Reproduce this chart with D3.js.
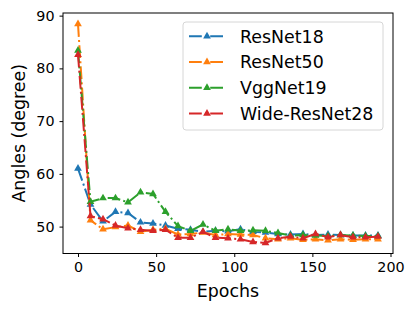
<!DOCTYPE html>
<html>
<head>
<meta charset="utf-8">
<script src="https://cdn.jsdelivr.net/npm/d3@7"></script>
<style>
  body { margin: 0; background: #fff; }
  text { font-family: "DejaVu Sans", sans-serif; }
</style>
</head>
<body>
<div id="container"></div>
<script>
const epochs = d3.range(0, 193, 8)

const resnet18 = [61.0, 54.2, 51.0, 52.8, 52.6, 50.8, 50.6, 50.2, 49.6, 49.4, 49.0, 49.2, 49.1,
                  49.5, 49.0, 48.9, 48.6, 48.5, 48.6, 48.4, 48.5, 48.4, 48.3, 48.3, 48.3]
const resnet50 = [88.4, 51.2, 49.5, 49.9, 50.2, 49.0, 49.4, 49.6, 48.5, 48.6, 48.9, 48.4, 48.6,
                  48.5, 48.4, 47.8, 47.6, 47.8, 47.5, 47.6, 47.4, 47.6, 47.5, 47.6, 47.6]
const vggnet19 = [83.4, 54.7, 55.4, 55.4, 54.6, 56.5, 56.2, 52.8, 50.1, 49.2, 50.4, 49.2, 49.5,
                  49.2, 49.3, 49.2, 48.8, 48.3, 48.4, 48.3, 48.2, 48.4, 48.3, 48.2, 48.2]
const wideResnet28 = [82.6, 52.0, 51.4, 50.2, 49.7, 49.4, 49.2, 49.4, 47.9, 47.9, 49.0, 47.9, 47.8,
                      47.6, 47.1, 46.9, 47.8, 48.1, 47.8, 48.6, 48.0, 48.4, 48.0, 48.0, 48.1]

const seriesNames = ["ResNet18", "ResNet50", "VggNet19", "Wide-ResNet28"]
const seriesValues = [resnet18, resnet50, vggnet19, wideResnet28]
const colors = ["#1f77b4", "#ff7f0e", "#2ca02c", "#d62728"]

const xTicks = [0, 50, 100, 150, 200]
const yTicks = [50, 60, 70, 80, 90]

const width = 415
const height = 312
const margin = {top: 13, right: 22, bottom: 58.5, left: 63}

const svg = d3.create("svg")
    .attr("width", width)
    .attr("height", height)

const x = d3.scaleLinear()
    .domain([-9.6, 201.6])
    .range([margin.left, width - margin.right])

const y = d3.scaleLinear()
    .domain([44.9, 90.5])
    .range([height - margin.bottom, margin.top])

const series = seriesNames.map((name, i) => ({
    name: name,
    color: colors[i],
    points: epochs.map((e, j) => ({x: e, y: seriesValues[i][j]}))
}))

const line = d3.line()
    .x(d => x(d.x))
    .y(d => y(d.y))

const dash = "12.8,3.2,2,3.2"
const triangle = d3.symbol().type(d3.symbolTriangle).size(26)

const groups = svg.selectAll(".series")
    .data(series)
    .enter()
    .append("g")
    .attr("class", "series")

groups.append("path")
    .attr("d", d => line(d.points))
    .attr("fill", "none")
    .attr("stroke", d => d.color)
    .attr("stroke-width", 2)
    .attr("stroke-dasharray", dash)

groups.each(function(s) {
    d3.select(this).selectAll(".mark")
        .data(s.points)
        .enter()
        .append("path")
        .attr("class", "mark")
        .attr("d", triangle)
        .attr("transform", d => `translate(${x(d.x)},${y(d.y)})`)
        .attr("fill", s.color)
})

// frame
svg.append("rect")
    .attr("x", margin.left)
    .attr("y", margin.top)
    .attr("width", width - margin.left - margin.right)
    .attr("height", height - margin.top - margin.bottom)
    .attr("fill", "none")
    .attr("stroke", "#000")
    .attr("stroke-width", 1)

const xAxis = svg.append("g")
    .attr("transform", `translate(0,${height - margin.bottom})`)
    .call(d3.axisBottom(x).tickValues(xTicks).tickSize(3.5).tickPadding(5))
xAxis.select(".domain").remove()

const yAxis = svg.append("g")
    .attr("transform", `translate(${margin.left},0)`)
    .call(d3.axisLeft(y).tickValues(yTicks).tickSize(3.5).tickPadding(5))
yAxis.select(".domain").remove()

svg.selectAll(".tick text")
    .attr("font-size", "14.3px")
    .attr("fill", "#000")
    .style("font-family", "DejaVu Sans")
svg.selectAll(".tick line").attr("stroke", "#000").attr("stroke-width", 1)

svg.append("text")
    .attr("x", (margin.left + width - margin.right) / 2)
    .attr("y", 297)
    .attr("text-anchor", "middle")
    .attr("font-size", "17.4px")
    .text("Epochs")

svg.append("text")
    .attr("transform", `translate(25,${(margin.top + height - margin.bottom) / 2}) rotate(-90)`)
    .attr("text-anchor", "middle")
    .attr("font-size", "17.4px")
    .text("Angles (degree)")

// legend
const legend = svg.append("g")

legend.append("rect")
    .attr("x", 183)
    .attr("y", 22)
    .attr("width", 200)
    .attr("height", 108)
    .attr("rx", 3)
    .attr("fill", "rgba(255,255,255,0.8)")
    .attr("stroke", "#d6d6d6")
    .attr("stroke-width", 1)

const items = legend.selectAll(".item")
    .data(series)
    .enter()
    .append("g")
    .attr("class", "item")
    .attr("transform", (d, i) => `translate(0,${36.3 + i * 25.7})`)

items.append("line")
    .attr("x1", 189)
    .attr("x2", 225)
    .attr("stroke", d => d.color)
    .attr("stroke-width", 2)
    .attr("stroke-dasharray", dash)

items.append("path")
    .attr("d", triangle)
    .attr("transform", "translate(207,0)")
    .attr("fill", d => d.color)

items.append("text")
    .attr("x", 240)
    .attr("y", 6.3)
    .attr("font-size", "17.4px")
    .text(d => d.name)

document.querySelector("#container").appendChild(svg.node())
</script>
</body>
</html>
